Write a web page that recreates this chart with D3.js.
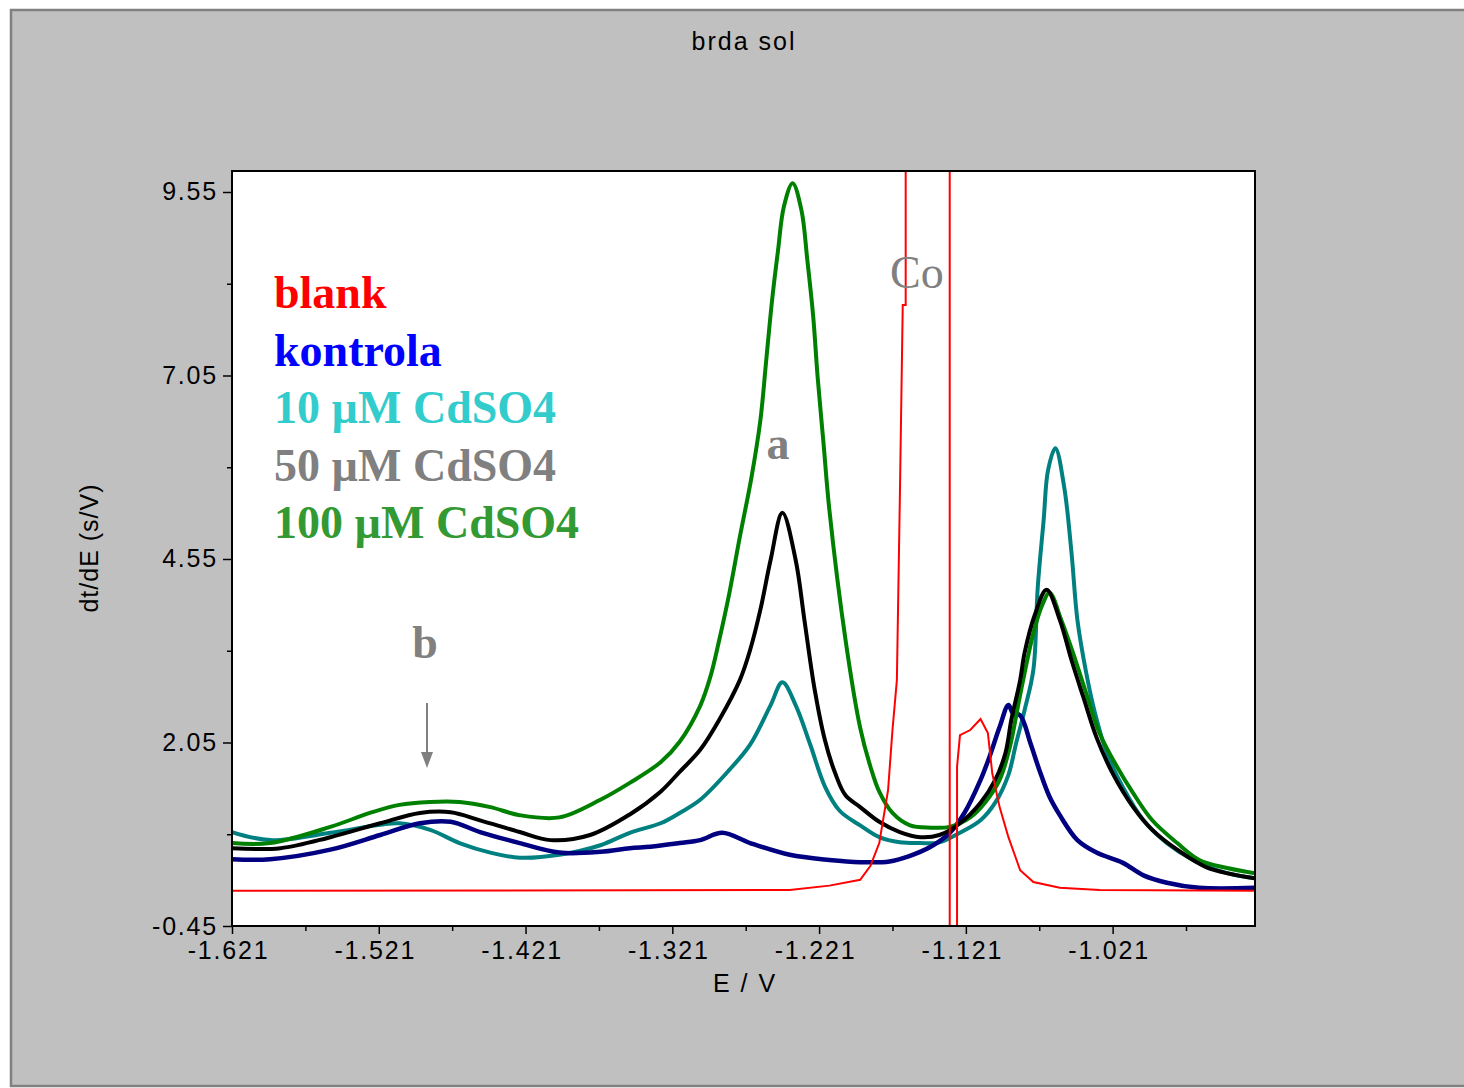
<!DOCTYPE html>
<html>
<head>
<meta charset="utf-8">
<script src="https://cdn.jsdelivr.net/npm/d3@7"></script>
<style>
  body { margin: 0; background: #fff; }
  svg { display: block; }
</style>
</head>
<body>
<div id="chart"></div>
<script>
'use strict';

// [E / V, dt/dE (s/V)]
var blank = [
  [-1.621,0.03],[-1.241,0.04],[-1.214,0.10],[-1.193,0.18],[-1.186,0.37],[-1.180,0.68],[-1.174,1.40],
  [-1.171,2.22],[-1.168,2.90],[-1.166,5.35],[-1.164,8.01],[-1.162,8.01],[-1.162,15],[-1.132,15],
  [-1.132,-3],[-1.127,-3],[-1.127,1.72],[-1.125,2.15],[-1.118,2.22],[-1.111,2.37],[-1.106,2.18],
  [-1.103,1.63],[-1.098,1.17],[-1.092,0.76],[-1.084,0.31],[-1.075,0.15],[-1.057,0.07],[-1.030,0.04],
  [-0.924,0.03]
];

var kontrola = [
  [-1.621,0.46],[-1.595,0.46],[-1.554,0.59],[-1.520,0.79],[-1.493,0.95],[-1.472,0.97],[-1.452,0.83],
  [-1.425,0.68],[-1.398,0.55],[-1.370,0.56],[-1.350,0.61],[-1.336,0.63],[-1.316,0.68],[-1.302,0.72],
  [-1.287,0.82],[-1.268,0.68],[-1.241,0.52],[-1.214,0.45],[-1.193,0.42],[-1.173,0.43],[-1.160,0.50],
  [-1.145,0.63],[-1.132,0.82],[-1.122,1.09],[-1.111,1.54],[-1.105,1.85],[-1.098,2.26],[-1.092,2.56],
  [-1.089,2.45],[-1.084,2.42],[-1.077,2.04],[-1.071,1.68],[-1.064,1.31],[-1.057,1.06],[-1.045,0.72],
  [-1.032,0.55],[-1.014,0.41],[-1.000,0.24],[-0.984,0.14],[-0.962,0.07],[-0.924,0.07]
];

var cd10 = [
  [-1.621,0.83],[-1.595,0.72],[-1.554,0.82],[-1.520,0.93],[-1.507,0.95],[-1.486,0.86],[-1.466,0.68],
  [-1.445,0.55],[-1.425,0.48],[-1.398,0.52],[-1.370,0.65],[-1.350,0.82],[-1.329,0.95],[-1.316,1.09],
  [-1.302,1.27],[-1.282,1.68],[-1.268,2.02],[-1.254,2.56],[-1.246,2.87],[-1.237,2.56],[-1.227,2.02],
  [-1.217,1.45],[-1.207,1.12],[-1.193,0.92],[-1.180,0.76],[-1.166,0.69],[-1.152,0.68],[-1.139,0.69],
  [-1.125,0.82],[-1.111,0.99],[-1.101,1.23],[-1.092,1.61],[-1.087,2.02],[-1.081,2.49],[-1.075,3.04],
  [-1.072,4.17],[-1.068,5.08],[-1.065,5.76],[-1.060,6.06],[-1.054,5.53],[-1.049,4.63],[-1.045,3.72],
  [-1.039,3.00],[-1.033,2.45],[-1.025,1.91],[-1.014,1.44],[-1.000,0.99],[-0.984,0.68],[-0.966,0.45],
  [-0.943,0.27],[-0.924,0.20]
];

var cd50 = [
  [-1.621,0.61],[-1.588,0.61],[-1.554,0.76],[-1.520,0.95],[-1.493,1.09],[-1.472,1.10],[-1.452,0.99],
  [-1.425,0.83],[-1.404,0.72],[-1.377,0.79],[-1.350,1.07],[-1.329,1.38],[-1.316,1.65],[-1.302,1.95],
  [-1.289,2.36],[-1.275,2.90],[-1.268,3.31],[-1.261,3.86],[-1.254,4.54],[-1.246,5.18],[-1.237,4.54],
  [-1.231,3.72],[-1.224,2.77],[-1.217,2.08],[-1.210,1.63],[-1.203,1.33],[-1.193,1.17],[-1.180,0.97],
  [-1.166,0.83],[-1.152,0.76],[-1.139,0.79],[-1.125,0.95],[-1.111,1.23],[-1.101,1.54],[-1.094,1.91],
  [-1.090,2.36],[-1.084,2.90],[-1.081,3.27],[-1.074,3.79],[-1.066,4.13],[-1.057,3.72],[-1.049,3.17],
  [-1.041,2.67],[-1.032,2.12],[-1.021,1.63],[-1.007,1.17],[-0.994,0.86],[-0.977,0.59],[-0.957,0.35],
  [-0.924,0.20]
];

var cd100 = [
  [-1.621,0.68],[-1.595,0.68],[-1.554,0.90],[-1.527,1.09],[-1.507,1.20],[-1.486,1.24],[-1.466,1.24],
  [-1.445,1.17],[-1.425,1.06],[-1.398,1.03],[-1.370,1.27],[-1.350,1.50],[-1.329,1.78],
  [-1.316,2.06],[-1.302,2.55],[-1.295,2.95],[-1.289,3.45],[-1.282,4.10],[-1.275,4.85],[-1.267,5.67],
  [-1.261,6.44],[-1.257,7.26],[-1.253,8.08],[-1.249,8.75],[-1.245,9.35],[-1.239,9.67],[-1.233,9.30],
  [-1.229,8.62],[-1.225,7.85],[-1.222,7.03],[-1.218,6.13],[-1.214,5.22],[-1.203,3.45],[-1.193,2.25],
  [-1.186,1.72],[-1.180,1.38],[-1.171,1.09],[-1.159,0.92],[-1.145,0.89],[-1.132,0.90],[-1.118,1.03],
  [-1.108,1.23],[-1.098,1.54],[-1.091,1.99],[-1.084,2.70],[-1.075,3.54],[-1.069,3.92],[-1.064,4.09],
  [-1.056,3.72],[-1.048,3.27],[-1.039,2.72],[-1.030,2.18],[-1.018,1.72],[-1.007,1.36],[-0.994,0.99],
  [-0.977,0.68],[-0.962,0.45],[-0.943,0.34],[-0.924,0.27]
];

var xTicks = [-1.621, -1.521, -1.421, -1.321, -1.221, -1.121, -1.021];
var xMinorTicks = [-1.571, -1.471, -1.371, -1.271, -1.171, -1.071, -0.971];
var yTicks = [-0.45, 2.05, 4.55, 7.05, 9.55];
var yMinorTicks = [0.80, 3.30, 5.80, 8.30];

var legendLabels = ['blank', 'kontrola', '10 \u00B5M CdSO4', '50 \u00B5M CdSO4', '100 \u00B5M CdSO4'];
var legendColors = ['#ff0000', '#0000ff', '#33cccc', '#808080', '#339933'];

var W = 1464, H = 1088;
var plot = { left: 232, top: 171, right: 1255, bottom: 926 };

var svg = d3.select('#chart').append('svg')
  .attr('width', W)
  .attr('height', H);

// grey window frame
svg.append('rect')
  .attr('x', 11).attr('y', 10)
  .attr('width', W).attr('height', 1076)
  .style('fill', '#c0c0c0')
  .style('stroke', '#808080')
  .style('stroke-width', 2.5);

svg.append('text')
  .attr('x', 744).attr('y', 50)
  .style('text-anchor', 'middle')
  .style('font-family', 'Liberation Sans, Arial, sans-serif')
  .style('font-size', '25px')
  .style('letter-spacing', '2px')
  .style('fill', '#000')
  .text('brda sol');

var x = d3.scaleLinear().domain([-1.621, -0.924]).range([plot.left, plot.right]);
var y = d3.scaleLinear().domain([-0.45, 9.836]).range([plot.bottom, plot.top]);

svg.append('rect')
  .attr('x', plot.left).attr('y', plot.top)
  .attr('width', plot.right - plot.left)
  .attr('height', plot.bottom - plot.top)
  .style('fill', '#fff');

svg.append('clipPath').attr('id', 'clip')
  .append('rect')
  .attr('x', plot.left).attr('y', plot.top)
  .attr('width', plot.right - plot.left)
  .attr('height', plot.bottom - plot.top);

var lines = svg.append('g').attr('clip-path', 'url(#clip)');

var smooth = d3.line()
  .x(function(d) { return x(d[0]); })
  .y(function(d) { return y(d[1]); })
  .curve(d3.curveCatmullRom.alpha(0.5));

var straight = d3.line()
  .x(function(d) { return x(d[0]); })
  .y(function(d) { return y(d[1]); });

var series = [
  { data: cd10, color: '#008080', width: 4 },
  { data: kontrola, color: '#000080', width: 4.5 },
  { data: cd100, color: '#008000', width: 4 },
  { data: cd50, color: '#000000', width: 4 }
];

series.forEach(function(s) {
  lines.append('path')
    .attr('d', smooth(s.data))
    .style('fill', 'none')
    .style('stroke', s.color)
    .style('stroke-width', s.width)
    .style('stroke-linejoin', 'round');
});

lines.append('path')
  .attr('d', straight(blank))
  .style('fill', 'none')
  .style('stroke', '#ff0000')
  .style('stroke-width', 2);

// plot border
svg.append('rect')
  .attr('x', plot.left).attr('y', plot.top)
  .attr('width', plot.right - plot.left)
  .attr('height', plot.bottom - plot.top)
  .style('fill', 'none')
  .style('stroke', '#000')
  .style('stroke-width', 2);

function styleAxis(g) {
  g.select('.domain').remove();
  g.selectAll('line').style('stroke', '#000').style('stroke-width', 1.5);
  g.selectAll('text')
    .style('font-family', 'Liberation Sans, Arial, sans-serif')
    .style('font-size', '25px')
    .style('letter-spacing', '1.8px')
    .style('fill', '#000');
}

svg.append('g')
  .attr('transform', 'translate(0,' + plot.bottom + ')')
  .call(d3.axisBottom(x).tickValues(xTicks).tickSize(8).tickPadding(7)
    .tickFormat(function(d) { return d.toFixed(3); }))
  .call(styleAxis)
  .selectAll('text').attr('dx', -4);

svg.append('g')
  .attr('transform', 'translate(0,' + plot.bottom + ')')
  .call(d3.axisBottom(x).tickValues(xMinorTicks).tickSize(5).tickFormat(''))
  .call(styleAxis);

svg.append('g')
  .attr('transform', 'translate(' + plot.left + ',0)')
  .call(d3.axisLeft(y).tickValues(yTicks).tickSize(9).tickPadding(5)
    .tickFormat(function(d) { return d.toFixed(2); }))
  .call(styleAxis);

svg.append('g')
  .attr('transform', 'translate(' + plot.left + ',0)')
  .call(d3.axisLeft(y).tickValues(yMinorTicks).tickSize(5).tickFormat(''))
  .call(styleAxis);

svg.append('text')
  .attr('x', 745).attr('y', 992)
  .style('text-anchor', 'middle')
  .style('font-family', 'Liberation Sans, Arial, sans-serif')
  .style('font-size', '25px')
  .style('letter-spacing', '2px')
  .text('E / V');

svg.append('text')
  .attr('transform', 'translate(98,548) rotate(-90)')
  .style('text-anchor', 'middle')
  .style('font-family', 'Liberation Sans, Arial, sans-serif')
  .style('font-size', '25px')
  .style('letter-spacing', '1px')
  .text('dt/dE (s/V)');

// legend
var legend = svg.append('g');
legend.selectAll('text')
  .data(legendLabels)
  .enter()
  .append('text')
  .attr('x', 274)
  .attr('y', function(d, i) { return 308 + i * 57.5; })
  .style('font-family', 'Liberation Serif, Times New Roman, serif')
  .style('font-weight', 'bold')
  .style('font-size', '46px')
  .style('fill', function(d, i) { return legendColors[i]; })
  .text(function(d) { return d; });

// annotations
function note(txt, px, py, bold, anchor) {
  svg.append('text')
    .attr('x', px).attr('y', py)
    .style('text-anchor', anchor || 'middle')
    .style('font-family', 'Liberation Serif, Times New Roman, serif')
    .style('font-weight', bold ? 'bold' : 'normal')
    .style('font-size', '46px')
    .style('fill', '#808080')
    .text(txt);
}
note('a', 778, 459, true);
note('b', 425, 658, true);
note('Co', 890, 288, false, 'start');

svg.append('line')
  .attr('x1', 427).attr('y1', 703)
  .attr('x2', 427).attr('y2', 754)
  .style('stroke', '#808080')
  .style('stroke-width', 2);
svg.append('path')
  .attr('d', 'M421,752 L433,752 L427,768 Z')
  .style('fill', '#808080');
</script>
</body>
</html>
